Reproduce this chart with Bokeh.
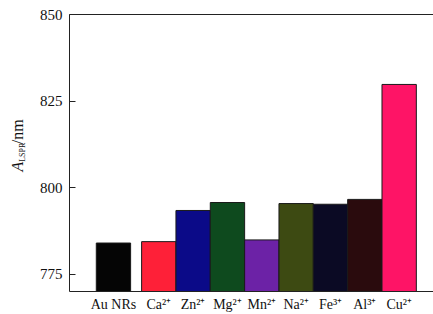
from bokeh.plotting import figure
from bokeh.layouts import row
from bokeh.models import Range1d, LinearAxis, FixedTicker, Label, ColumnDataSource
from bokeh.embed import file_html
from bokeh.resources import INLINE
import math

# ---- data ----
categories = ["Au NRs", "Ca²⁺", "Zn²⁺", "Mg²⁺", "Mn²⁺", "Na²⁺", "Fe³⁺", "Al³⁺", "Cu²⁺"]
values = [784.0, 784.4, 793.4, 795.7, 784.9, 795.4, 795.2, 796.6, 829.8]
colors = ["#050505", "#fe2038", "#0b0a88", "#0e4a1e", "#6c22a6", "#3d4a12", "#0b0a24", "#2a0b0d", "#fe1466"]
y_ticks = [775, 800, 825, 850]

# positions: reference bar standalone, then ions side by side
gap = 0.32
xpos = [0.0] + [1.0 + gap + i for i in range(len(categories) - 1)]

FONT = "Liberation Serif"
TXT = "#111111"
AX = "#222222"

W, H = 433, 314
LW = 36  # width of the y-title strip

p = figure(width=W - LW, height=H,
           x_range=Range1d(-1.28, 9.32), y_range=Range1d(770, 850),
           output_backend="svg", toolbar_location=None,
           min_border_left=66 - LW, min_border_right=0, min_border_top=14, min_border_bottom=0)
p.outline_line_color = None
p.xgrid.visible = False
p.ygrid.visible = False

src = ColumnDataSource(dict(x=xpos, top=values, color=colors, name=categories))
p.vbar(x="x", top="top", bottom=770, width=1.0, fill_color="color",
       line_color="#1a1a1a", line_width=1, source=src)

# y axis
p.yaxis.ticker = FixedTicker(ticks=y_ticks)
p.yaxis.major_tick_in = 6
p.yaxis.major_tick_out = 0
p.yaxis.minor_tick_line_color = None
p.yaxis.major_label_text_font = FONT
p.yaxis.major_label_text_font_size = "15px"
p.yaxis.major_label_text_color = TXT
p.yaxis.major_label_standoff = 7
p.yaxis.axis_line_color = AX
p.yaxis.major_tick_line_color = AX

# x axis
p.xaxis.ticker = FixedTicker(ticks=xpos)
p.xaxis.major_label_overrides = {x: c for x, c in zip(xpos, categories)}
p.xaxis.major_tick_in = 0
p.xaxis.major_tick_out = 0
p.xaxis.minor_tick_line_color = None
p.xaxis.major_label_text_font = FONT
p.xaxis.major_label_text_font_size = "14px"
p.xaxis.major_label_text_color = TXT
p.xaxis.major_label_standoff = 5
p.xaxis.axis_line_color = AX

# top frame line (no right border)
top = LinearAxis(major_tick_line_color=None, minor_tick_line_color=None,
                 major_label_text_font_size="0px", major_label_standoff=0,
                 axis_line_color=AX)
top.ticker = FixedTicker(ticks=[])
p.add_layout(top, "above")

# ---- y-axis title strip: A_LSPR/nm ----
t = figure(width=LW, height=H, x_range=Range1d(0, LW), y_range=Range1d(H, 0),
           output_backend="svg", toolbar_location=None,
           min_border_left=0, min_border_right=0, min_border_top=0, min_border_bottom=0)
t.axis.visible = False
t.xgrid.visible = False
t.ygrid.visible = False
t.outline_line_color = None
rot = math.pi / 2
t.add_layout(Label(x=17, y=178, text="A", angle=rot, text_font=FONT,
                   text_font_style="italic", text_font_size="16px",
                   text_baseline="middle", text_align="left", text_color=TXT))
t.add_layout(Label(x=21.5, y=167, text="LSPR", angle=rot, text_font=FONT,
                   text_font_size="8px", text_baseline="middle", text_align="left",
                   text_color=TXT))
t.add_layout(Label(x=17, y=147, text="/nm", angle=rot, text_font=FONT,
                   text_font_size="16px", text_baseline="middle", text_align="left",
                   text_color=TXT))

layout = row(t, p, spacing=0)
open("out.html", "w").write(file_html(layout, INLINE))
